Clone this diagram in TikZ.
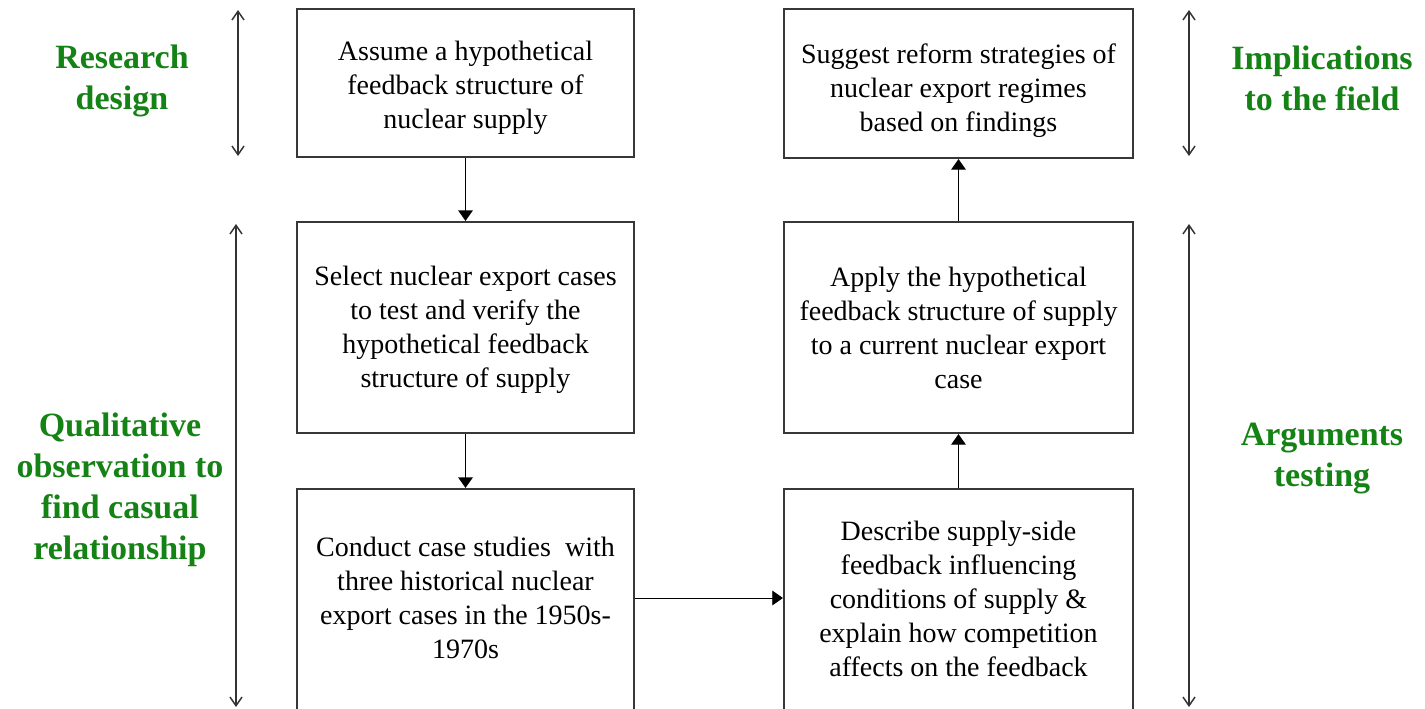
\documentclass[tikz,border=0pt]{standalone}
\usepackage{fontspec}
\setmainfont{Liberation Serif}
\usetikzlibrary{arrows.meta}
\newlength\px
\setlength\px{0.75pt}
\definecolor{labelgreen}{RGB}{20,130,20}
\definecolor{boxline}{RGB}{55,55,55}
\tikzset{
  box/.style={draw=boxline, line width=1.6pt, rectangle, inner sep=0pt},
  boxtext/.style={align=center, inner sep=0pt, font=\fontsize{21}{25.5}\selectfont},
  conn/.style={draw=black, line width=1.1pt, -{Triangle[length=8pt,width=11pt]}},
  thinconn/.style={draw=black, line width=0.7pt, -{Triangle[length=8pt,width=11pt]}},
  span/.style={draw=black!80, line width=1.1pt, {Straight Barb[length=6.5pt,width=9pt]}-{Straight Barb[length=6.5pt,width=9pt]}},
  phase/.style={text=labelgreen, align=center, inner sep=0pt,
    font=\fontsize{25.5}{30.75}\selectfont\bfseries}
}
\begin{document}
\begin{tikzpicture}[x=0.75pt, y=-0.75pt]
\useasboundingbox (0,0) rectangle (1425,708);
\fill[white] (0,0) rectangle (1425,708);

% process boxes, left column
\node[box, minimum width=337\px, minimum height=148\px] (a) at (465.5,83) {};
\node[box, minimum width=337\px, minimum height=211\px] (b) at (465.5,327.5) {};
\node[box, minimum width=337\px, minimum height=222\px] (c) at (465.5,600) {};
% process boxes, right column
\node[box, minimum width=349\px, minimum height=149\px] (d) at (958.5,83.5) {};
\node[box, minimum width=349\px, minimum height=211\px] (e) at (958.5,327.5) {};
\node[box, minimum width=349\px, minimum height=222\px] (f) at (958.5,600) {};

% box texts
\node[boxtext] (at) at ([yshift=-4.5\px]a.center)
  {Assume a hypothetical\\feedback structure of\\nuclear supply};
\node[boxtext] (bt) at ([yshift=-2\px]b.center)
  {Select nuclear export cases\\to test and verify the\\hypothetical feedback\\structure of supply};
\node[boxtext] (ct) at ([yshift=2\px]c.center)
  {Conduct case studies\ \ with\\three historical nuclear\\export cases in the 1950s-\\1970s};
\node[boxtext] (dt) at ([yshift=-7\px]d.center)
  {Suggest reform strategies of\\nuclear export regimes\\based on findings};
\node[boxtext] (et) at (e.center)
  {Apply the hypothetical\\feedback structure of supply\\to a current nuclear export\\case};
\node[boxtext] (ft) at ([yshift=1.5\px]f.center)
  {Describe supply-side\\feedback influencing\\conditions of supply \&\\explain how competition\\affects on the feedback};

% flow between the steps
\draw[conn] (a.south) -- (b.north);
\draw[conn] (b.south) -- (c.north);
\draw[thinconn] ([yshift=2\px]c.east) -- ([yshift=2\px]f.west);
\draw[conn] (f.north) -- (e.south);
\draw[conn] (e.north) -- (d.south);

% phase spans
\coordinate (l1t) at (238,10);
\coordinate (l1b) at (238,156);
\coordinate (l2t) at (236,224);
\coordinate (l2b) at (236,707);
\coordinate (r1t) at (1189,10);
\coordinate (r1b) at (1189,156);
\coordinate (r2t) at (1189,224);
\coordinate (r2b) at (1189,707);
\draw[span] (l1t) -- (l1b);
\draw[span] (l2t) -- (l2b);
\draw[span] (r1t) -- (r1b);
\draw[span] (r2t) -- (r2b);

% phase labels
\node[phase] (rd) at (122,81) {Research\\design};
\node[phase] (qo) at (120,489.5) {Qualitative\\observation to\\find casual\\relationship};
\node[phase] (im) at (1322,78) {Implications\\to the field};
\node[phase] (ag) at (1322,459) {Arguments\\testing};
\end{tikzpicture}
\end{document}
